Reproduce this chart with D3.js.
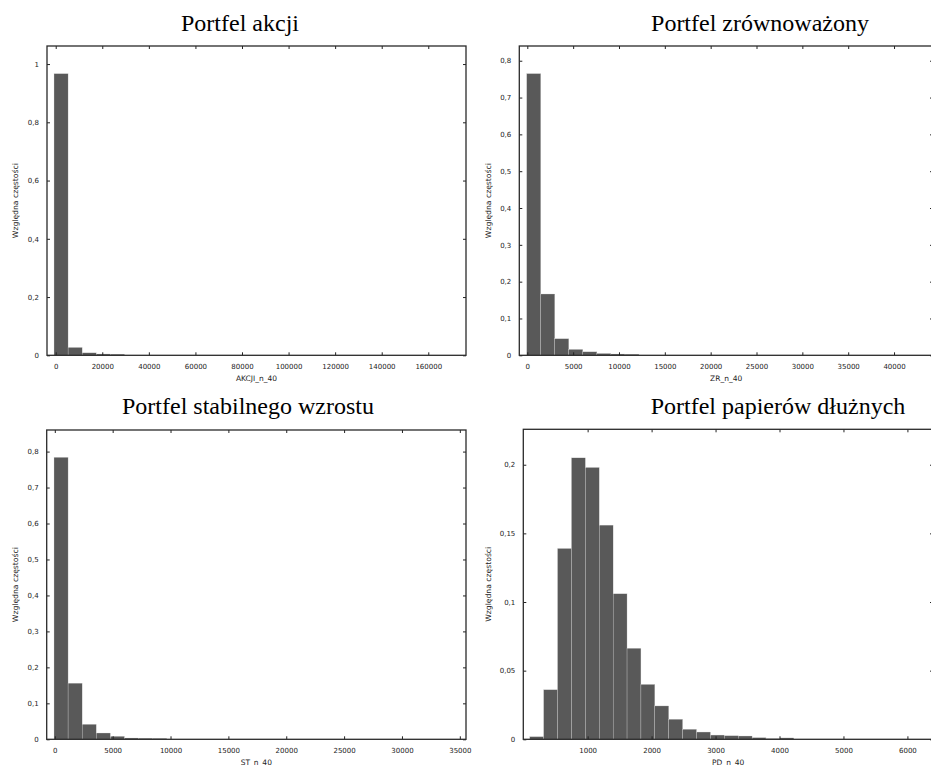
<!DOCTYPE html>
<html>
<head>
<meta charset="utf-8">
<script src="https://cdn.jsdelivr.net/npm/d3@7"></script>
<style>
  html, body { margin: 0; padding: 0; background: #fff; }
  svg { display: block; }
</style>
</head>
<body>
<div id="chart"></div>
<script>
// ---------------- DATA ----------------
const titles = ["Portfel akcji", "Portfel zrównoważony", "Portfel stabilnego wzrostu", "Portfel papierów dłużnych"];
const xAxisTitles = ["AKCJI_n_40", "ZR_n_40", "ST_n_40", "PD_n_40"];
const yAxisTitle = "Względna częstości";

// Panel 1: Portfel akcji
const akcjiBinStart = -730;
const akcjiBinWidth = 6050;
const akcjiFreq = [0.967, 0.027, 0.0085, 0.0045, 0.004];
const akcjiXTicks = [0, 20000, 40000, 60000, 80000, 100000, 120000, 140000, 160000];
const akcjiYTicks = [0, 0.2, 0.4, 0.6, 0.8, 1];

// Panel 2: Portfel zrównoważony
const zrBinStart = -65;
const zrBinWidth = 1531;
const zrFreq = [0.765, 0.1665, 0.045, 0.016, 0.0095, 0.005, 0.0035, 0.003];
const zrXTicks = [0, 5000, 10000, 15000, 20000, 25000, 30000, 35000, 40000];
const zrYTicks = [0, 0.1, 0.2, 0.3, 0.4, 0.5, 0.6, 0.7, 0.8];

// Panel 3: Portfel stabilnego wzrostu
const stBinStart = -69;
const stBinWidth = 1217;
const stFreq = [0.784, 0.156, 0.0417, 0.0175, 0.0083, 0.0036, 0.003, 0.0025];
const stXTicks = [0, 5000, 10000, 15000, 20000, 25000, 30000, 35000];
const stYTicks = [0, 0.1, 0.2, 0.3, 0.4, 0.5, 0.6, 0.7, 0.8];

// Panel 4: Portfel papierów dłużnych
const pdBinStart = 95;
const pdBinWidth = 217.3;
const pdFreq = [0.0019, 0.0361, 0.139, 0.205, 0.198, 0.156, 0.106, 0.0663, 0.040, 0.0243,
                0.0146, 0.0073, 0.0053, 0.0031, 0.0026, 0.0024, 0.0012, 0.0005, 0.001];
const pdXTicks = [1000, 2000, 3000, 4000, 5000, 6000];
const pdYTicks = [0, 0.05, 0.1, 0.15, 0.2];

// ---------------- LAYOUT ----------------
const W = 931, H = 766;
const panels = [
  { title: titles[0], xTitle: xAxisTitles[0], binStart: akcjiBinStart, binWidth: akcjiBinWidth, freq: akcjiFreq,
    xTicks: akcjiXTicks, yTicks: akcjiYTicks, xDomain: [-3740, 176200], yDomain: [0, 1.062],
    box: { l: 47, r: 466, t: 46, b: 355.3 }, titleX: 240, titleY: 31, yTitleX: 15 },
  { title: titles[1], xTitle: xAxisTitles[1], binStart: zrBinStart, binWidth: zrBinWidth, freq: zrFreq,
    xTicks: zrXTicks, yTicks: zrYTicks, xDomain: [-873, 44250], yDomain: [0, 0.84],
    box: { l: 519.3, r: 933, t: 46, b: 355.3 }, titleX: 760, titleY: 31, yTitleX: 488 },
  { title: titles[2], xTitle: xAxisTitles[2], binStart: stBinStart, binWidth: stBinWidth, freq: stFreq,
    xTicks: stXTicks, yTicks: stYTicks, xDomain: [-700, 35534], yDomain: [0, 0.86],
    box: { l: 46.7, r: 466, t: 430, b: 739.3 }, titleX: 248, titleY: 414, yTitleX: 15.5 },
  { title: titles[3], xTitle: xAxisTitles[3], binStart: pdBinStart, binWidth: pdBinWidth, freq: pdFreq,
    xTicks: pdXTicks, yTicks: pdYTicks, xDomain: [-6, 6400], yDomain: [0, 0.2258],
    box: { l: 523.3, r: 933, t: 429.3, b: 739.3 }, titleX: 778, titleY: 414, yTitleX: 488 }
];

const fmt = v => String(v).replace(".", ",");
const TICK = 3;

const svg = d3.select("#chart").append("svg")
  .attr("width", W).attr("height", H)
  .attr("viewBox", `0 0 ${W} ${H}`);

panels.forEach(p => {
  const g = svg.append("g");
  const x = d3.scaleLinear().domain(p.xDomain).range([p.box.l, p.box.r]);
  const y = d3.scaleLinear().domain(p.yDomain).range([p.box.b, p.box.t]);

  // title
  g.append("text")
    .attr("x", p.titleX).attr("y", p.titleY)
    .attr("text-anchor", "middle")
    .attr("font-family", "'Liberation Serif', 'Times New Roman', serif")
    .attr("font-size", 24)
    .attr("fill", "#000")
    .text(p.title);

  // bars
  const bins = p.freq.map((f, i) => ({ x0: p.binStart + i * p.binWidth, x1: p.binStart + (i + 1) * p.binWidth, f }));
  g.append("g").selectAll("rect").data(bins).join("rect")
    .attr("x", d => x(d.x0))
    .attr("width", d => x(d.x1) - x(d.x0))
    .attr("y", d => y(d.f))
    .attr("height", d => y(0) - y(d.f))
    .attr("fill", "#595959")
    .attr("stroke", "#d8d8d8")
    .attr("stroke-width", 0.3);

  // axes with inward ticks
  const axisStyle = sel => {
    sel.select(".domain").remove();
    sel.selectAll(".tick line").attr("stroke", "#222").attr("stroke-width", 1);
    sel.selectAll(".tick text")
      .attr("font-family", "'DejaVu Sans', Verdana, sans-serif")
      .attr("font-size", 7)
      .attr("fill", "#222");
  };

  g.append("g").attr("transform", `translate(0,${p.box.b})`)
    .call(d3.axisBottom(x).tickValues(p.xTicks).tickFormat(d3.format("d")).tickSizeInner(-TICK).tickSizeOuter(0).tickPadding(9))
    .call(axisStyle);
  g.append("g").attr("transform", `translate(0,${p.box.t})`)
    .call(d3.axisTop(x).tickValues(p.xTicks).tickFormat("").tickSizeInner(-TICK).tickSizeOuter(0))
    .call(axisStyle);
  g.append("g").attr("transform", `translate(${p.box.l},0)`)
    .call(d3.axisLeft(y).tickValues(p.yTicks).tickFormat(fmt).tickSizeInner(-TICK).tickSizeOuter(0).tickPadding(8))
    .call(axisStyle);
  g.append("g").attr("transform", `translate(${p.box.r},0)`)
    .call(d3.axisRight(y).tickValues(p.yTicks).tickFormat("").tickSizeInner(-TICK).tickSizeOuter(0))
    .call(axisStyle);

  // frame
  g.append("rect")
    .attr("x", p.box.l).attr("y", p.box.t)
    .attr("width", p.box.r - p.box.l).attr("height", p.box.b - p.box.t)
    .attr("fill", "none").attr("stroke", "#2a2a2a").attr("stroke-width", 1.3);

  // x axis title
  g.append("text")
    .attr("x", (p.box.l + p.box.r) / 2).attr("y", p.box.b + 26)
    .attr("text-anchor", "middle")
    .attr("font-family", "'DejaVu Sans', Verdana, sans-serif")
    .attr("font-size", 7.5)
    .attr("fill", "#222")
    .text(p.xTitle);

  // y axis title
  g.append("text")
    .attr("transform", `translate(${p.yTitleX},${(p.box.t + p.box.b) / 2}) rotate(-90)`)
    .attr("text-anchor", "middle")
    .attr("dy", "0.35em")
    .attr("font-family", "'DejaVu Sans Condensed', 'DejaVu Sans', sans-serif")
    .attr("font-size", 7.5)
    .attr("textLength", 75)
    .attr("lengthAdjust", "spacingAndGlyphs")
    .attr("fill", "#222")
    .text(yAxisTitle);
});
</script>
</body>
</html>
